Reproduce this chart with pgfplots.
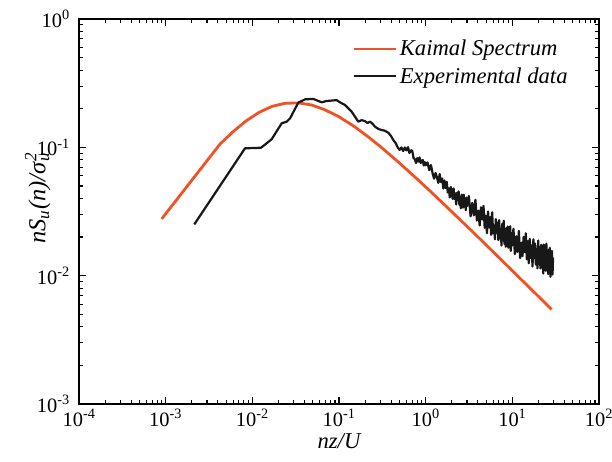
\documentclass[border=0pt]{standalone}
\usepackage{fontspec}
\setmainfont{Liberation Serif}
\usepackage{pgfplots}
\pgfplotsset{compat=1.18}
\definecolor{kaimal}{RGB}{240,82,36}
\definecolor{expdata}{RGB}{24,24,24}
\begin{document}
\begin{tikzpicture}
\begin{axis}[
  scale only axis,
  width=520bp, height=385bp,
  xmode=log, ymode=log,
  xmin=1e-4, xmax=1e2, ymin=1e-3, ymax=1,
  axis line style={line width=1.3bp, black},
  tick align=inside,
  major tick length=7bp, minor tick length=4bp,
  every tick/.style={line width=1.1bp, black},
  xtick={1e-4,1e-3,1e-2,1e-1,1,10,100},
  xticklabels={10\textsuperscript{-4},10\textsuperscript{-3},10\textsuperscript{-2},10\textsuperscript{-1},10\textsuperscript{0},10\textsuperscript{1},10\textsuperscript{2}},
  ytick={1e-3,1e-2,1e-1,1},
  yticklabels={10\textsuperscript{-3},10\textsuperscript{-2},10\textsuperscript{-1},10\textsuperscript{0}},
  minor xtick={2e-4,3e-4,4e-4,5e-4,6e-4,7e-4,8e-4,9e-4,
               2e-3,3e-3,4e-3,5e-3,6e-3,7e-3,8e-3,9e-3,
               0.02,0.03,0.04,0.05,0.06,0.07,0.08,0.09,
               0.2,0.3,0.4,0.5,0.6,0.7,0.8,0.9,
               2,3,4,5,6,7,8,9,20,30,40,50,60,70,80,90},
  minor ytick={2e-3,3e-3,4e-3,5e-3,6e-3,7e-3,8e-3,9e-3,
               0.02,0.03,0.04,0.05,0.06,0.07,0.08,0.09,
               0.2,0.3,0.4,0.5,0.6,0.7,0.8,0.9},
  ticklabel style={font=\fontsize{20.5}{24}\selectfont},
  xticklabel style={inner sep=2bp, yshift=-3bp},
  yticklabel style={inner sep=2bp, xshift=-7bp},
  xlabel={\itshape nz/U},
  ylabel={\itshape nS\textsubscript{u}\kern1bp(n)/σ\rlap{\textsuperscript{\kern1bp 2}}\textsubscript{\kern1bp u}},
  xlabel style={font=\fontsize{22.7}{27}\selectfont, at={(axis description cs:0.5,-0.096)}, anchor=center},
  ylabel style={font=\fontsize{24.5}{28}\selectfont, at={(axis description cs:-0.079,0.535)}, anchor=center, rotate=0},
  legend style={draw=none, fill=none, inner sep=0pt,
    at={(axis description cs:0.525,0.953)}, anchor=north west,
    font=\fontsize{22.7}{27}\selectfont\itshape, row sep=4bp,
    nodes={inner sep=3bp}},
  legend cell align=left,
  legend image code/.code={\draw[#1, line width=2.7bp] (0bp,0bp) -- (42bp,0bp);},
]
\addplot[kaimal, line width=2.8bp] coordinates {
(9.0e-4,0.0277) (4.24e-3,0.106) (6e-3,0.1325) (8.5e-3,0.161) (0.012,0.1875)
(0.017,0.209) (0.024,0.2205) (0.034,0.222) (0.048,0.214) (0.068,0.197)
(0.1,0.173) (0.15,0.1455) (0.22,0.1200) (0.32,0.0978) (0.5,0.0753)
(0.75,0.0588) (1.1,0.0463) (1.6,0.0364) (2.4,0.0280) (3.5,0.0219)
(5,0.01732) (7.5,0.01323) (11,0.01025) (16,0.00800) (22,0.00647) (28.4,0.00546)
};
\addlegendentry{Kaimal Spectrum}
\addplot[expdata, line width=2.2bp, line join=round] coordinates {
(2.14e-3,0.0251) (8.22e-3,0.0982) (0.0126,0.0993) (0.0167,0.1156) (0.0218,0.1538)
(0.0249,0.1585) (0.0272,0.168) (0.0339,0.2228) (0.0406,0.2366) (0.0505,0.2384)
(0.0631,0.2244) (0.0721,0.2297) (0.094,0.2333) (0.1025,0.2244) (0.1172,0.2138)
(0.140,0.1897) (0.167,0.1585) (0.183,0.163) (0.1995,0.160) (0.213,0.155)
(0.228,0.1585) (0.243,0.153) (0.260,0.1449) (0.285,0.139) (0.311,0.1364)
(0.335,0.135) (0.371,0.130) (0.40,0.122) (0.423,0.114) (0.45,0.108) (0.475,0.100)
(0.500,0.0955) (0.525,0.0998) (0.550,0.0936) (0.575,0.0997) (0.600,0.0947)
(0.625,0.1003) (0.650,0.0902) (0.675,0.0949) (0.700,0.0941) (0.725,0.0825)
(0.750,0.0808) (0.775,0.0755) (0.800,0.0825) (0.825,0.0774) (0.850,0.0834)
(0.875,0.0757) (0.900,0.0770) (0.925,0.0798) (0.950,0.0722) (0.975,0.0768)
(1.000,0.0725)
(1.05,0.0763) (1.10,0.0665) (1.15,0.0729) (1.20,0.0631) (1.25,0.0570)
(1.30,0.0631) (1.35,0.0584) (1.40,0.0528) (1.45,0.0619) (1.50,0.0536)
(1.55,0.0572) (1.60,0.0477) (1.65,0.0551) (1.70,0.0482) (1.75,0.0538)
(1.80,0.0444) (1.85,0.0478) (1.90,0.0407) (1.95,0.0491) (2.00,0.0440)
(2.05,0.0396) (2.10,0.0479) (2.15,0.0397) (2.20,0.0438) (2.25,0.0359)
(2.30,0.0443) (2.35,0.0387) (2.40,0.0454) (2.45,0.0356) (2.50,0.0404)
(2.55,0.0335) (2.60,0.0428) (2.65,0.0376) (2.70,0.0339) (2.75,0.0428)
(2.80,0.0350) (2.85,0.0400) (2.90,0.0324) (2.95,0.0406) (3.00,0.0348)
(3.15,0.0418) (3.30,0.0290) (3.45,0.0369) (3.60,0.0295) (3.75,0.0390)
(3.90,0.0269) (4.05,0.0321) (4.20,0.0246) (4.35,0.0341) (4.50,0.0274)
(4.65,0.0350) (4.80,0.0236) (4.95,0.0294) (5.10,0.0214) (5.25,0.0316)
(5.40,0.0238) (5.55,0.0286) (5.70,0.0208) (5.85,0.0312) (6.00,0.0214)
(6.15,0.0245) (6.30,0.0192) (6.45,0.0276) (6.60,0.0217) (6.75,0.0259)
(6.90,0.0189) (7.05,0.0271) (7.20,0.0195) (7.35,0.0230) (7.50,0.0172)
(7.65,0.0254) (7.80,0.0192) (7.95,0.0268) (8.10,0.0177) (8.25,0.0227)
(8.40,0.0168) (8.55,0.0235) (8.70,0.0193) (8.85,0.0242) (9.00,0.0165)
(9.15,0.0215) (9.30,0.0170) (9.45,0.0243) (9.60,0.0156) (9.75,0.0216)
(9.90,0.0171)
(10.3,0.0232) (10.7,0.0147) (11.1,0.0203) (11.5,0.0153) (11.9,0.0223)
(12.3,0.0137) (12.7,0.0181) (13.1,0.0142) (13.5,0.0201) (13.9,0.0153)
(14.3,0.0214) (14.7,0.0134) (15.1,0.0186) (15.5,0.0125) (15.9,0.0193)
(16.3,0.0138) (16.7,0.0172) (17.1,0.0118) (17.5,0.0192) (17.9,0.0137)
(18.3,0.0178) (18.7,0.0122) (19.1,0.0161) (19.5,0.0114) (19.9,0.0188)
(20.3,0.0124) (20.7,0.0165) (21.1,0.0114) (21.5,0.0174) (21.9,0.0132)
(22.3,0.0165) (22.7,0.0104) (23.1,0.0175) (23.5,0.0120) (23.9,0.0152)
(24.3,0.0109) (24.7,0.0178) (25.1,0.0111) (25.5,0.0140) (25.9,0.0103)
(26.3,0.0159) (26.7,0.0117) (27.1,0.0165) (27.5,0.0098) (27.9,0.0149)
(28.3,0.0107) (28.7,0.0156) (29.1,0.0102) (29.5,0.0138)
};
\addlegendentry{Experimental data}
\end{axis}
\pgfresetboundingbox
\path (-79bp,-58bp) rectangle (533bp,404bp);
\end{tikzpicture}
\end{document}
